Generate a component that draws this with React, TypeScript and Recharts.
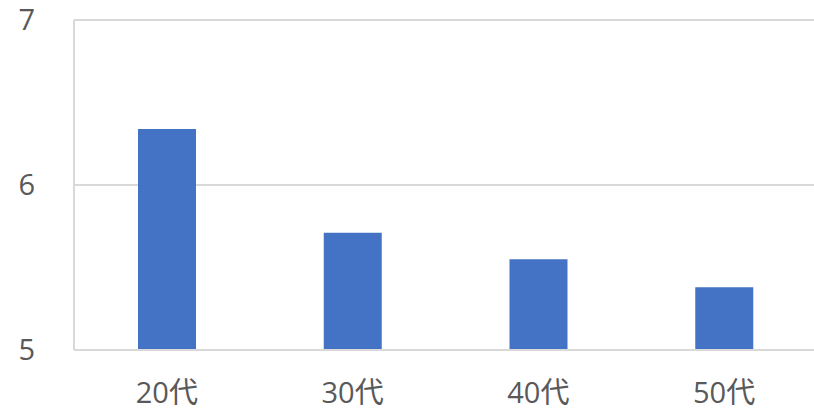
import { BarChart, Bar, XAxis, YAxis, CartesianGrid } from 'recharts';

const categories = ['20代', '30代', '40代', '50代'];
const values = [6.34, 5.71, 5.55, 5.38];
const yTicks = [5, 6, 7];

const data = categories.map((c, i) => ({ name: c, value: values[i] }));

const font = '"Open Sans", "Noto Sans CJK JP", sans-serif';

export default function App() {
  return (
    <div style={{ position: 'absolute', left: 0, top: 0, width: 814, height: 412, background: '#fff', overflow: 'hidden' }}>
      <BarChart
        width={814}
        height={412}
        data={data}
        margin={{ top: 20, right: -3, left: 0, bottom: 32 }}
        barCategoryGap={0}
      >
        <CartesianGrid vertical={false} stroke="#d9d9d9" strokeWidth={2} />
        <XAxis
          dataKey="name"
          height={30}
          axisLine={{ stroke: '#d9d9d9', strokeWidth: 2 }}
          tickLine={false}
          tickSize={0}
          tickMargin={32}
          tick={{ fontSize: 29, fill: '#595959', fontFamily: font }}
        />
        <YAxis
          domain={[5, 7]}
          ticks={yTicks}
          width={74}
          axisLine={{ stroke: '#d9d9d9', strokeWidth: 2 }}
          tickLine={false}
          tickSize={0}
          tickMargin={39}
          tick={{ fontSize: 29, fill: '#595959', fontFamily: font }}
        />
        <Bar dataKey="value" fill="#4472C4" barSize={58} isAnimationActive={false} />
      </BarChart>
    </div>
  );
}
